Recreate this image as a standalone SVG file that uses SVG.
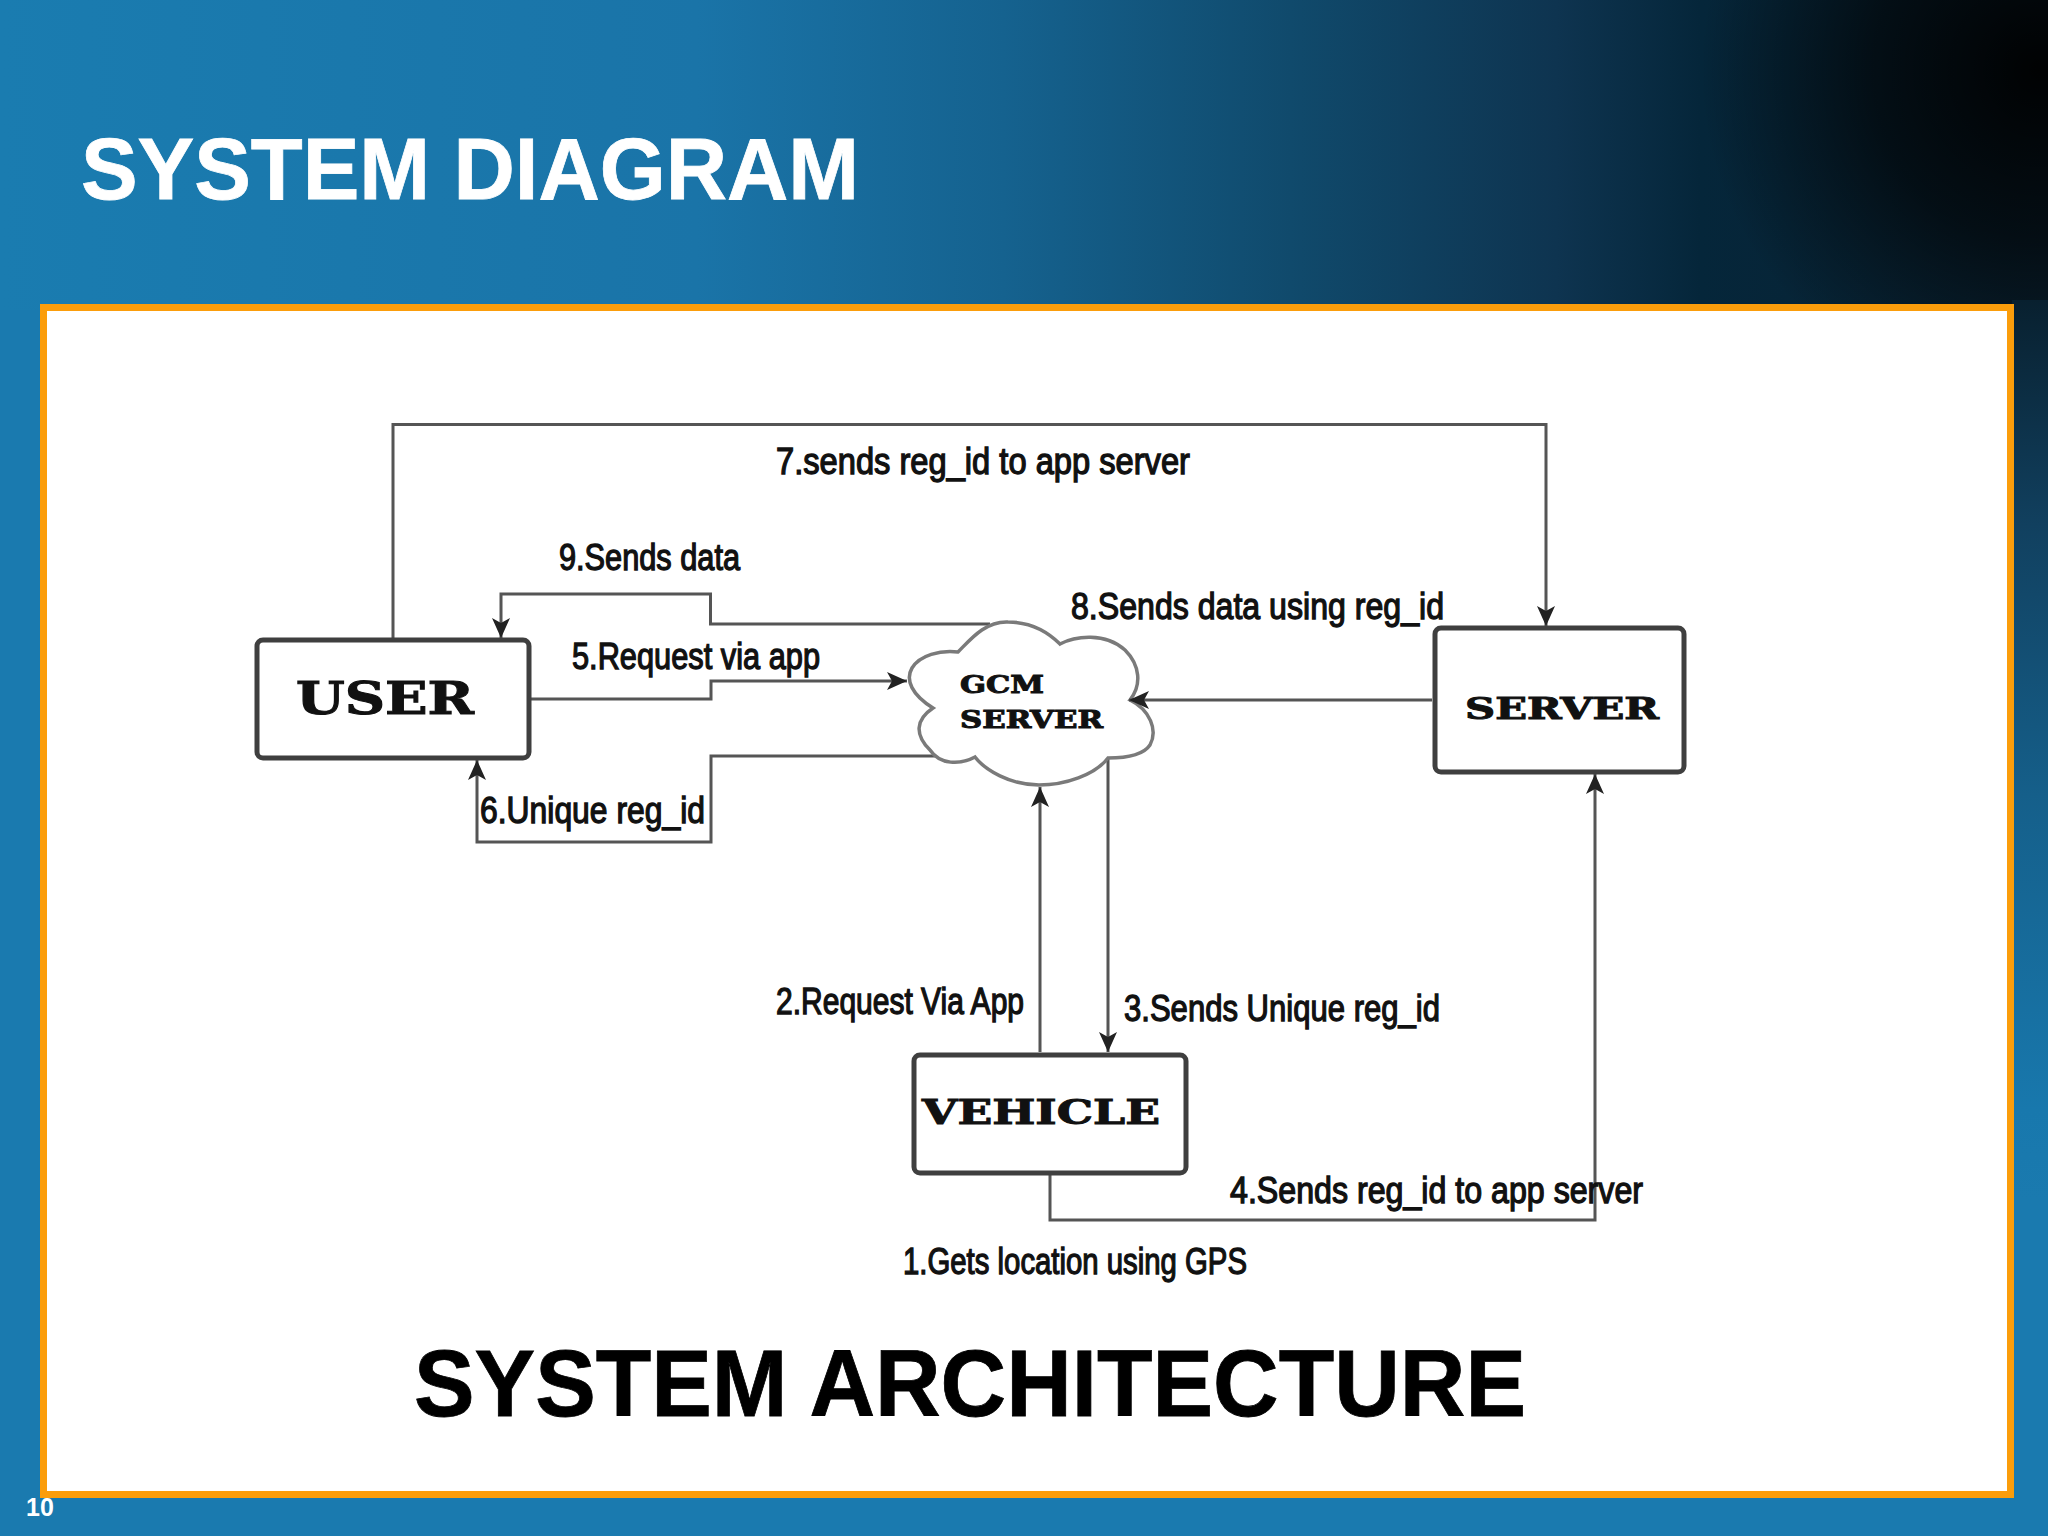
<svg xmlns="http://www.w3.org/2000/svg" width="2048" height="1536" viewBox="0 0 2048 1536">
<defs>
<linearGradient id="hdr" gradientUnits="userSpaceOnUse" x1="0" y1="0" x2="2048" y2="0">
<stop offset="0" stop-color="#1a7cb0"/>
<stop offset="0.34" stop-color="#1a74a8"/>
<stop offset="0.49" stop-color="#15628f"/>
<stop offset="0.63" stop-color="#104a6c"/>
<stop offset="0.76" stop-color="#0e3450"/>
<stop offset="0.83" stop-color="#05263a"/>
<stop offset="1" stop-color="#0a2232"/>
</linearGradient>
<radialGradient id="dark" gradientUnits="userSpaceOnUse" cx="2040" cy="70" r="340">
<stop offset="0" stop-color="#000" stop-opacity=".95"/>
<stop offset="0.5" stop-color="#000" stop-opacity=".6"/>
<stop offset="1" stop-color="#000" stop-opacity="0"/>
</radialGradient>
<linearGradient id="rs" gradientUnits="userSpaceOnUse" x1="0" y1="300" x2="0" y2="1200">
<stop offset="0" stop-color="#08202f"/>
<stop offset="0.25" stop-color="#11405f"/>
<stop offset="0.55" stop-color="#155f8a"/>
<stop offset="0.9" stop-color="#1878ad"/>
<stop offset="1" stop-color="#1a7aaf"/>
</linearGradient>
<marker id="arr" markerUnits="userSpaceOnUse" markerWidth="22" markerHeight="20" refX="20" refY="9" orient="auto">
<path d="M0 0L20 9L0 18L5 9Z" fill="#222"/>
</marker>
<style>
.box{fill:#fff;stroke:#3f3f3f;stroke-width:5}
.cn{fill:none;stroke:#555;stroke-width:3}
.cloud{fill:#fff;stroke:#7a7a7a;stroke-width:3.500}
.lb{font-family:"Liberation Sans",Arial,sans-serif;font-size:36px;fill:#111;stroke:#111;stroke-width:1.300}
.nm{font-family:"DejaVu Serif",serif;font-weight:700;fill:#111;stroke:#111;stroke-width:1}
.tt{font-family:"Liberation Sans",Arial,sans-serif;font-weight:700}
</style>
</defs>
<rect width="2048" height="1536" fill="#1a7aaf"/>
<rect width="2048" height="310" fill="url(#hdr)"/>
<rect x="1600" width="448" height="310" fill="url(#dark)"/>
<rect x="2012" y="300" width="36" height="900" fill="url(#rs)"/>
<rect x="43.500" y="307.500" width="1967" height="1187" fill="#fff" stroke="#fb9d0b" stroke-width="7"/>
<text class="tt" x="81" y="199" font-size="88" fill="#fff" stroke="#fff" stroke-width=".8" textLength="778" lengthAdjust="spacingAndGlyphs">SYSTEM DIAGRAM</text>
<g id="connectors">
<path class="cn" d="M393 640V424.500H1546V626" marker-end="url(#arr)"/>
<path class="cn" d="M990 624H710.500V594H501V638" marker-end="url(#arr)"/>
<path class="cn" d="M529 699H711V681H907" marker-end="url(#arr)"/>
<path class="cn" d="M945 756H711V842H477V760" marker-end="url(#arr)"/>
<path class="cn" d="M1040 1052V787" marker-end="url(#arr)"/>
<path class="cn" d="M1108 758V1052" marker-end="url(#arr)"/>
<path class="cn" d="M1050 1174V1220H1595V774" marker-end="url(#arr)"/>
</g>
<g id="user"><rect class="box" x="257" y="640" width="272" height="118" rx="6"/><text class="nm" x="296" y="714" font-size="44" textLength="178" lengthAdjust="spacingAndGlyphs">USER</text></g>
<g id="gcm-server"><path class="cloud" d="M958 652C970 640 985 621 1008 622C1030 622 1048 632 1060 644C1075 636 1105 632 1125 650C1140 665 1142 685 1130 700C1150 710 1158 730 1150 745C1142 757 1120 758 1108 758C1095 775 1065 785 1039 785C1010 785 985 770 975 757C960 765 940 765 930 750C915 735 915 720 933 708C912 695 905 680 912 668C920 655 940 650 958 652Z"/><text class="nm" x="960" y="693" font-size="25" textLength="84" lengthAdjust="spacingAndGlyphs">GCM</text><text class="nm" x="960" y="728" font-size="25" textLength="143" lengthAdjust="spacingAndGlyphs">SERVER</text></g>
<path class="cn" d="M1432 700H1129" marker-end="url(#arr)"/>
<g id="server"><rect class="box" x="1435" y="628" width="249" height="144" rx="6"/><text class="nm" x="1465" y="719" font-size="30" textLength="194" lengthAdjust="spacingAndGlyphs">SERVER</text></g>
<g id="vehicle"><rect class="box" x="914" y="1055" width="272" height="118" rx="6"/><text class="nm" x="922" y="1124" font-size="34" textLength="238" lengthAdjust="spacingAndGlyphs">VEHICLE</text></g>
<g id="labels">
<text class="lb" x="776" y="474" textLength="414" lengthAdjust="spacingAndGlyphs">7.sends reg_id to app server</text>
<text class="lb" x="559" y="570" textLength="181" lengthAdjust="spacingAndGlyphs">9.Sends data</text>
<text class="lb" x="572" y="669" textLength="248" lengthAdjust="spacingAndGlyphs">5.Request via app</text>
<text class="lb" x="480" y="823" textLength="225" lengthAdjust="spacingAndGlyphs">6.Unique reg_id</text>
<text class="lb" x="1071" y="619" textLength="373" lengthAdjust="spacingAndGlyphs">8.Sends data using reg_id</text>
<text class="lb" x="776" y="1014" textLength="248" lengthAdjust="spacingAndGlyphs">2.Request Via App</text>
<text class="lb" x="1124" y="1021" textLength="316" lengthAdjust="spacingAndGlyphs">3.Sends Unique reg_id</text>
<text class="lb" x="1230" y="1203" textLength="413" lengthAdjust="spacingAndGlyphs">4.Sends reg_id to app server</text>
<text class="lb" x="903" y="1274" textLength="344" lengthAdjust="spacingAndGlyphs">1.Gets location using GPS</text>
</g>
<text class="tt" x="414" y="1416" font-size="95" fill="#000" stroke="#000" stroke-width=".8" textLength="1112" lengthAdjust="spacingAndGlyphs">SYSTEM ARCHITECTURE</text>
<text class="tt" x="26" y="1516" font-size="25" fill="#fff">10</text>
</svg>
